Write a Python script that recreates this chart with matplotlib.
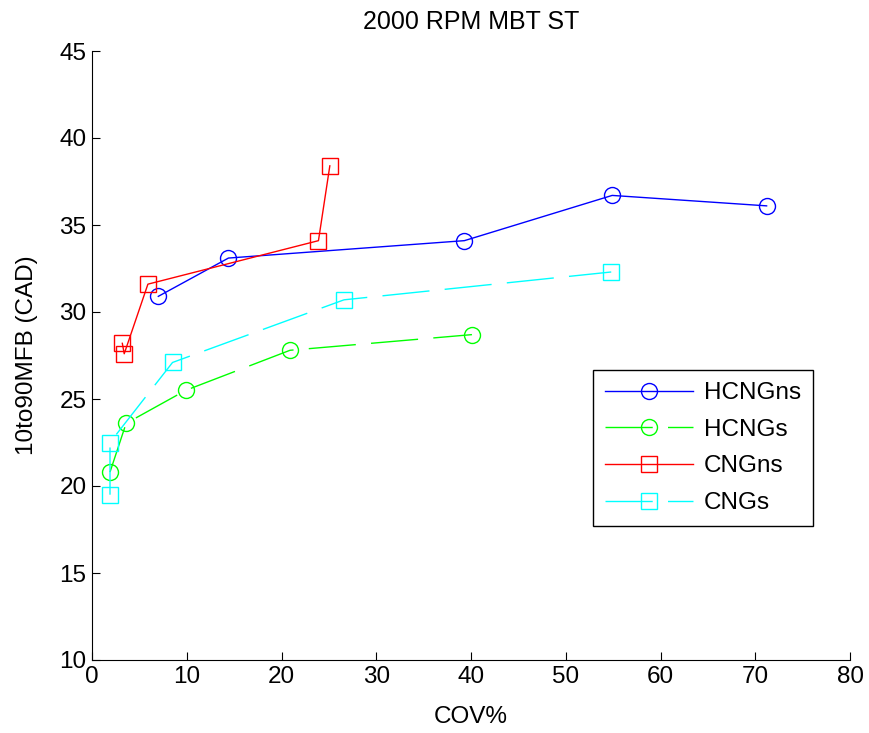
import matplotlib
matplotlib.use("Agg")
import matplotlib.pyplot as plt

plt.rcParams['font.family'] = ['Liberation Sans', 'DejaVu Sans']

hcngns_x = [7.0, 14.4, 39.3, 54.9, 71.2]
hcngns_y = [30.9, 33.1, 34.1, 36.7, 36.1]

hcngs_x = [1.9, 3.6, 9.9, 20.9, 40.1]
hcngs_y = [20.8, 23.6, 25.5, 27.8, 28.7]

cngns_x = [3.2, 3.4, 5.9, 23.9, 25.1]
cngns_y = [28.2, 27.6, 31.6, 34.1, 38.4]

cngs_x = [1.9, 1.9, 8.5, 26.6, 54.8]
cngs_y = [19.5, 22.5, 27.1, 30.7, 32.3]

title = "2000 RPM MBT ST"
xlabel = "COV%"
ylabel = "10to90MFB (CAD)"

fig = plt.figure(figsize=(8.7, 7.33), dpi=100)
ax = fig.add_axes([92/870, 73/733, 758/870, 609/733])

ms = 11.5
dash = (0, (34, 11))
ax.plot(hcngns_x, hcngns_y, color=(0, 0, 1), lw=1, marker='o', ms=ms, mfc='none', mew=1, label='HCNGns')
ax.plot(hcngs_x, hcngs_y, color=(0, 1, 0), lw=1, ls=dash, marker='o', ms=ms, mfc='none', mew=1, label='HCNGs')
ax.plot(cngns_x, cngns_y, color=(1, 0, 0), lw=1, marker='s', ms=ms, mfc='none', mew=1, label='CNGns')
ax.plot(cngs_x, cngs_y, color=(0, 1, 1), lw=1, ls=dash, marker='s', ms=ms, mfc='none', mew=1, label='CNGs')

ax.set_xlim(0, 80)
ax.set_ylim(10, 45)
ax.set_xticks(range(0, 81, 10))
ax.set_yticks(range(10, 46, 5))
for s in ['top', 'right']:
    ax.spines[s].set_visible(False)
ax.tick_params(direction='in', length=6, labelsize=17.5, pad=4)
ax.set_title(title, fontsize=18, pad=16)
ax.set_xlabel(xlabel, fontsize=17.5, labelpad=13)
ax.set_ylabel(ylabel, fontsize=17.5, labelpad=15)

leg = ax.legend(loc='upper left', bbox_to_anchor=(0.661, 0.476), fontsize=17.5,
                fancybox=False, framealpha=1, edgecolor='black', handlelength=3.6,
                borderpad=0.5, labelspacing=0.6, handletextpad=0.45, borderaxespad=0)
leg.get_frame().set_linewidth(1)

fig.savefig("out.png", dpi=100)
